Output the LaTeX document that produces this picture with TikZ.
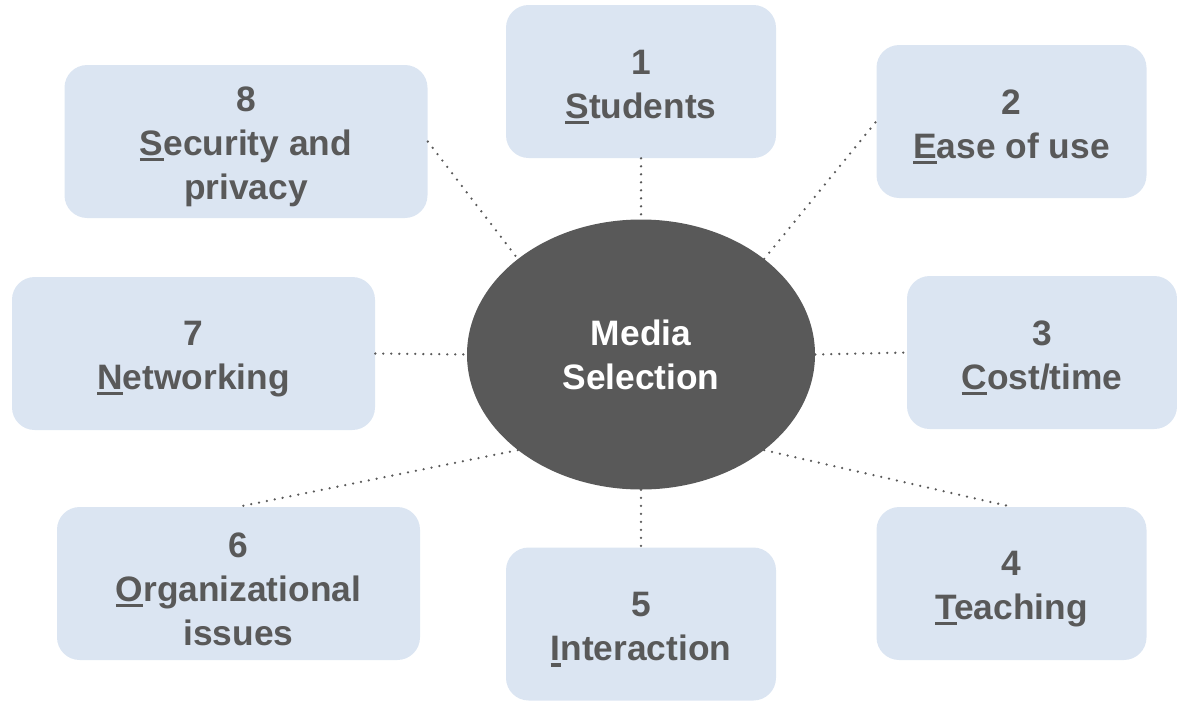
\documentclass[tikz,border=0pt]{standalone}
\usepackage{fontspec}
\setmainfont{Liberation Sans}
\usepackage{xcolor}
\usetikzlibrary{shapes.geometric}

\definecolor{topicblue}{RGB}{219,229,242}
\definecolor{msgray}{RGB}{89,89,89}
% underline of the first letter
\newcommand{\firstul}[1]{\setbox0\hbox{#1}\rlap{\rule[-4.3pt]{\wd0}{2.4pt}}#1}
% number line with a bit of room above it
\newcommand{\tnum}[1]{\rule{0pt}{26.5pt}#1}

\begin{document}
\begin{tikzpicture}[x=0.75pt,y=0.75pt,yscale=-1,xscale=1,
  topic/.style={fill=topicblue, rounded corners=17pt, inner sep=0pt,
    minimum height=114.75pt, align=center, text=msgray,
    font=\fontsize{26.5}{33}\selectfont\bfseries},
  narrowtopic/.style={topic, minimum width=202.5pt},
  widetopic/.style={topic, minimum width=272.25pt},
  link/.style={msgray, line width=1.9pt, line cap=round, dash pattern=on 0pt off 6pt}]
\useasboundingbox (0,0) rectangle (1177,701);

%Shape: Ellipse [id:media]
\node [ellipse, fill=msgray, inner sep=0pt, minimum width=261pt, minimum height=202.5pt,
  align=center, text=white, font=\fontsize{26.5}{33}\selectfont\bfseries] (media) at (641,354.5) {Media\\Selection};

% Text Node
\node [narrowtopic] (students) at (641,81.5) {\tnum{1}\\\firstul{S}tudents};
% Text Node
\node [narrowtopic] (ease) at (1011.5,121.5) {\tnum{2}\\\firstul{E}ase of use};
% Text Node
\node [narrowtopic] (cost) at (1042,352.5) {\tnum{3}\\\firstul{C}ost/time};
% Text Node
\node [narrowtopic] (teaching) at (1011.5,583.5) {\tnum{4}\\\firstul{T}eaching};
% Text Node
\node [narrowtopic] (interaction) at (641,624) {\tnum{5}\\\firstul{I}nteraction};
% Text Node
\node [widetopic] (organizational) at (238.5,583.5) {\tnum{6}\\\firstul{O}rganizational\\issues};
% Text Node
\node [widetopic] (networking) at (193.5,353.5) {\tnum{7}\\\firstul{N}etworking};
% Text Node
\node [widetopic] (security) at (246,141.5) {\tnum{8}\\\firstul{S}ecurity and\\privacy};

%Straight Lines
\draw [link] (students.south) -- (media.north);
\draw [link] (media.north east) -- (ease.west);
\draw [link] (media.east) -- (cost.west);
\draw [link] (media.south east) -- (teaching.north);
\draw [link] (media.south) -- (interaction.north);
\draw [link] (media.south west) -- (organizational.north);
\draw [link] (networking.east) -- (media.west);
\draw [link] (security.east) -- (media.north west);

\end{tikzpicture}
\end{document}
